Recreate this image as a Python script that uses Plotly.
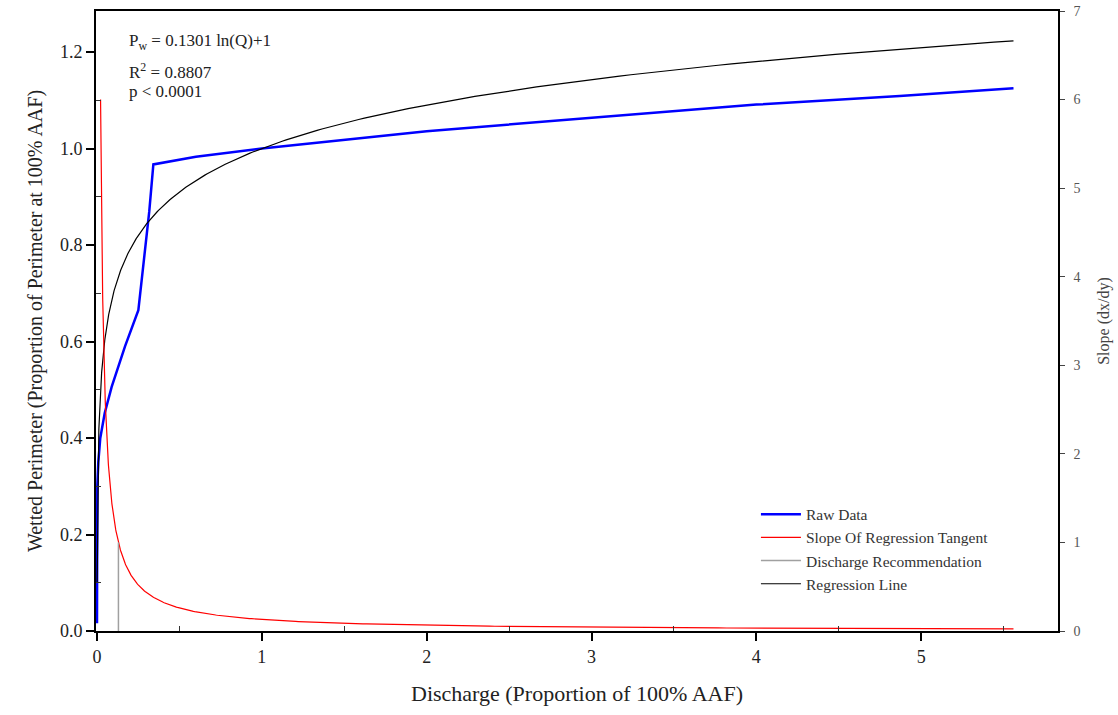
import numpy as np
import plotly.graph_objects as go

# Raw wetted-perimeter observations
raw_q = [0.0, 0.002, 0.008, 0.02, 0.047, 0.089, 0.17, 0.251, 0.317, 0.342, 0.6, 1.0, 2.0, 3.0, 4.0, 4.87, 5.56]
raw_p = [0.016, 0.30, 0.35, 0.40, 0.452, 0.506, 0.59, 0.665, 0.869, 0.967, 0.983, 1.0, 1.036, 1.064, 1.091, 1.109, 1.125]

# Fitted model Pw = a ln(Q) + b
coef_a = 0.1301
coef_b = 1.0
r_squared = 0.8807

q_min_fit = 0.001
q_max = 5.56
slope_cap = 6.0
recommended_slope = 1.0

q_fit = np.geomspace(q_min_fit, q_max, 400)
p_fit = coef_a * np.log(q_fit) + coef_b

q_slope = np.geomspace(coef_a / slope_cap, q_max, 400)
slope = coef_a / q_slope

q_rec = coef_a / recommended_slope

serif = "Liberation Serif"

fig = go.Figure()
fig.add_trace(go.Scatter(x=raw_q, y=raw_p, mode="lines", name="Raw Data",
                         line=dict(color="#0000ff", width=2.5)))
fig.add_trace(go.Scatter(x=q_slope, y=slope, mode="lines", name="Slope Of Regression Tangent",
                         line=dict(color="#ff0000", width=1.2), yaxis="y2"))
fig.add_trace(go.Scatter(x=[q_rec, q_rec], y=[0, recommended_slope], mode="lines",
                         name="Discharge Recommendation",
                         line=dict(color="#a0a0a0", width=1.5), yaxis="y2"))
fig.add_trace(go.Scatter(x=q_fit, y=p_fit, mode="lines", name="Regression Line",
                         line=dict(color="#000000", width=1.2)))

fig.update_layout(
    width=1118, height=715,
    margin=dict(l=96, r=60, t=11, b=84, autoexpand=False),
    plot_bgcolor="white", paper_bgcolor="white",
    font=dict(family=serif, color="#222"),
    showlegend=True,
    legend=dict(x=0.686, y=0.215, xanchor="left", yanchor="top",
                bgcolor="rgba(0,0,0,0)", font=dict(size=15.5, color="#333"),
                itemwidth=40, tracegroupgap=0),
    xaxis=dict(range=[-0.006, 5.83], showgrid=False, zeroline=False,
               showline=True, linecolor="black", linewidth=2, mirror=True,
               tickmode="array", tickvals=[0, 1, 2, 3, 4, 5],
               ticks="outside", ticklen=8, tickwidth=2, tickcolor="black",
               tickfont=dict(size=18, color="#222"),
               minor=dict(tickvals=[0.5, 1.5, 2.5, 3.5, 4.5, 5.5], ticks="inside",
                          ticklen=5, tickwidth=1.2, tickcolor="#333"),
               title=dict(text="Discharge (Proportion of 100% AAF)",
                          font=dict(size=22, color="#222"), standoff=20)),
    yaxis=dict(range=[0, 1.285], showgrid=False, zeroline=False,
               showline=True, linecolor="black", linewidth=2,
               tickmode="array", tickvals=[0, 0.2, 0.4, 0.6, 0.8, 1.0, 1.2],
               ticktext=["0.0", "0.2", "0.4", "0.6", "0.8", "1.0", "1.2"],
               ticks="outside", ticklen=8, tickwidth=2, tickcolor="black",
               tickfont=dict(size=18, color="#222"),
               minor=dict(tickvals=[0.1, 0.3, 0.5, 0.7, 0.9, 1.1], ticks="inside",
                          ticklen=5, tickwidth=1.2, tickcolor="#333"),
               title=dict(text="Wetted Perimeter (Proportion of Perimeter at 100% AAF)",
                          font=dict(size=20, color="#222"), standoff=12)),
    yaxis2=dict(range=[0, 7], overlaying="y", side="right", showgrid=False,
                zeroline=False, showline=True, linecolor="black", linewidth=1.5,
                tickmode="array", tickvals=[0, 1, 2, 3, 4, 5, 6, 7],
                ticks="outside", ticklen=5, tickwidth=1, tickcolor="#444",
                ticklabelstandoff=6,
                tickfont=dict(size=14, color="#555"),
                title=dict(text="Slope (dx/dy)", font=dict(size=16, color="#444"),
                           standoff=18)),
)

notes = [
    (0.95, "P<sub>w</sub> = %.4f ln(Q)+1" % coef_a),
    (0.903, "R<sup>2</sup> = %.4f" % r_squared),
    (0.87, "p < 0.0001"),
]
for ypos, txt in notes:
    fig.add_annotation(x=0.032, y=ypos, xref="paper", yref="paper", text=txt,
                       showarrow=False, xanchor="left", yanchor="middle",
                       font=dict(size=17, color="#222", family=serif))

fig.write_html("out.html")
